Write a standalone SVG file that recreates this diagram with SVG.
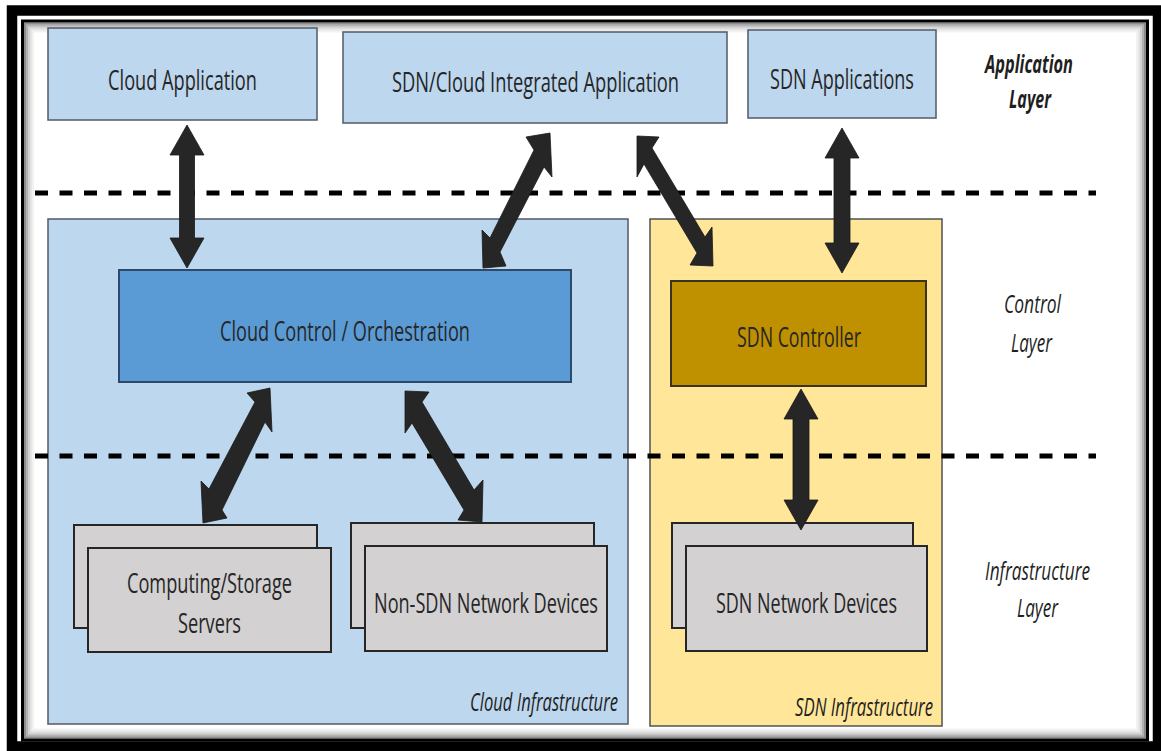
<svg xmlns="http://www.w3.org/2000/svg" width="1161" height="751" viewBox="0 0 1161 751">
<style>
.lbl{font-family:"Open Sans","Liberation Sans",sans-serif;font-size:28px;fill:#262626;}
.lay{font-family:"Open Sans","Liberation Sans",sans-serif;font-size:25px;font-style:italic;fill:#1f1f1f;}
.layb{font-family:"Open Sans","Liberation Sans",sans-serif;font-size:25px;font-style:italic;font-weight:bold;fill:#1f1f1f;}
.app{fill:#BDD7EE;stroke:#505a66;stroke-width:1.5;}
.grey{fill:#D3D1D2;stroke:#262626;stroke-width:2;}
.dash{stroke:#000;stroke-width:5;stroke-dasharray:13 11.5;fill:none;}
.arr{fill:#262626;stroke:#1a1a1a;stroke-width:0.8;stroke-linejoin:miter;}
</style>
<rect width="1161" height="751" fill="#fff"/>
<g id="frame">
<rect x="12" y="10.5" width="1146" height="736" fill="none" stroke="#000" stroke-width="10.5"/>
<rect x="22.5" y="21" width="1125" height="719" fill="none" stroke="#000" stroke-width="3"/>
<rect x="25" y="23.5" width="1120" height="714" fill="none" stroke="#000" stroke-opacity="0.45" stroke-width="2"/>
<rect x="27" y="25.5" width="1116" height="710" fill="none" stroke="#000" stroke-opacity="0.3" stroke-width="2"/>
<rect x="29" y="27.5" width="1112" height="706" fill="none" stroke="#000" stroke-opacity="0.18" stroke-width="2"/>
<rect x="31" y="29.5" width="1108" height="702" fill="none" stroke="#000" stroke-opacity="0.1" stroke-width="2"/>
<rect x="33" y="31.5" width="1104" height="698" fill="none" stroke="#000" stroke-opacity="0.05" stroke-width="2"/>
</g>
<g id="cloud-infra">
<rect x="48" y="219" width="580" height="505" fill="#BDD7EE" stroke="#505a66" stroke-width="1.5"/>
<text class="lay" x="470" y="711" textLength="148" lengthAdjust="spacingAndGlyphs">Cloud Infrastructure</text>
</g>
<g id="sdn-infra">
<rect x="650" y="219" width="292" height="507" fill="#FFE699" stroke="#505050" stroke-width="1.5"/>
<text class="lay" x="795" y="716" textLength="138" lengthAdjust="spacingAndGlyphs">SDN Infrastructure</text>
</g>
<g id="cloud-app">
<rect class="app" x="48" y="28" width="269" height="92"/>
<text class="lbl" transform="translate(182.5,90) scale(0.62,1)" x="0" y="0" text-anchor="middle" textLength="240" lengthAdjust="spacingAndGlyphs">Cloud Application</text>
</g>
<g id="sdn-cloud-app">
<rect class="app" x="343" y="32" width="384" height="91"/>
<text class="lbl" transform="translate(535.5,92) scale(0.62,1)" x="0" y="0" text-anchor="middle" textLength="463" lengthAdjust="spacingAndGlyphs">SDN/Cloud Integrated Application</text>
</g>
<g id="sdn-apps">
<rect class="app" x="748" y="30" width="188" height="88"/>
<text class="lbl" transform="translate(842,89) scale(0.62,1)" x="0" y="0" text-anchor="middle" textLength="232" lengthAdjust="spacingAndGlyphs">SDN Applications</text>
</g>
<g id="app-layer">
<text class="layb" x="1029" y="73" text-anchor="middle" textLength="88" lengthAdjust="spacingAndGlyphs">Application</text>
<text class="layb" x="1030" y="108" text-anchor="middle" textLength="42" lengthAdjust="spacingAndGlyphs">Layer</text>
</g>
<g id="cloud-control">
<rect x="119" y="270" width="452" height="112" fill="#5B9BD5" stroke="#2e4a6b" stroke-width="2"/>
<text class="lbl" x="345" y="341" text-anchor="middle" textLength="250" lengthAdjust="spacingAndGlyphs">Cloud Control / Orchestration</text>
</g>
<g id="sdn-controller">
<rect x="671" y="281" width="255" height="105" fill="#BF9000" stroke="#3a3320" stroke-width="2"/>
<text class="lbl" x="799" y="347" text-anchor="middle" textLength="124" lengthAdjust="spacingAndGlyphs">SDN Controller</text>
</g>
<g id="control-layer">
<text class="lay" x="1032.5" y="313" text-anchor="middle" textLength="57" lengthAdjust="spacingAndGlyphs">Control</text>
<text class="lay" x="1031.5" y="352" text-anchor="middle" textLength="41" lengthAdjust="spacingAndGlyphs">Layer</text>
</g>
<g id="computing">
<rect class="grey" x="74" y="525" width="243" height="103"/>
<rect class="grey" x="88" y="548" width="243" height="104"/>
<text class="lbl" x="209.5" y="593" text-anchor="middle" textLength="165" lengthAdjust="spacingAndGlyphs">Computing/Storage</text>
<text class="lbl" x="209.5" y="633" text-anchor="middle" textLength="63" lengthAdjust="spacingAndGlyphs">Servers</text>
</g>
<g id="non-sdn">
<rect class="grey" x="351" y="523" width="243" height="105"/>
<rect class="grey" x="365" y="546" width="242" height="105"/>
<text class="lbl" x="486" y="613" text-anchor="middle" textLength="224" lengthAdjust="spacingAndGlyphs">Non-SDN Network Devices</text>
</g>
<g id="sdn-devices">
<rect class="grey" x="672" y="523" width="241" height="105"/>
<rect class="grey" x="686" y="546" width="241" height="105"/>
<text class="lbl" x="806.5" y="613" text-anchor="middle" textLength="181" lengthAdjust="spacingAndGlyphs">SDN Network Devices</text>
</g>
<g id="infra-layer">
<text class="lay" x="1037.5" y="580" text-anchor="middle" textLength="105" lengthAdjust="spacingAndGlyphs">Infrastructure</text>
<text class="lay" x="1037.5" y="617" text-anchor="middle" textLength="41" lengthAdjust="spacingAndGlyphs">Layer</text>
</g>
<g id="layer-lines">
<line class="dash" x1="35" y1="193" x2="1096" y2="193"/>
<line class="dash" x1="35" y1="456" x2="1096" y2="456"/>
</g>
<g id="connectors">
<polygon class="arr" points="187,125 204,155 194.5,155 194.5,238 204,238 187,268 170,238 179.5,238 179.5,155 170,155"/>
<polygon class="arr" points="550,133 552,177 544,167 500,252 506,266 483,268 482,230 490,238 534,150 526,137"/>
<polygon class="arr" points="637,136 659,137 652,148 705,237 712,227 713,266 690,265 697,253 644,164 637,177"/>
<polygon class="arr" points="842,128 859,158 850,158 850,243 859,243 842,273 825,243 834,243 834,158 825,158"/>
<polygon class="arr" points="270,388 272,432 265,422 222,510 227,518 203,523 201,481 209,489 255,402 247,393"/>
<polygon class="arr" points="405,391 429,392 422,402 474,490 483,480 482,522 458,520 464,510 412,423 405,433"/>
<polygon class="arr" points="801,389 818,419 809,419 809,500 818,500 801,530 784,500 793,500 793,419 784,419"/>
</g>
</svg>
